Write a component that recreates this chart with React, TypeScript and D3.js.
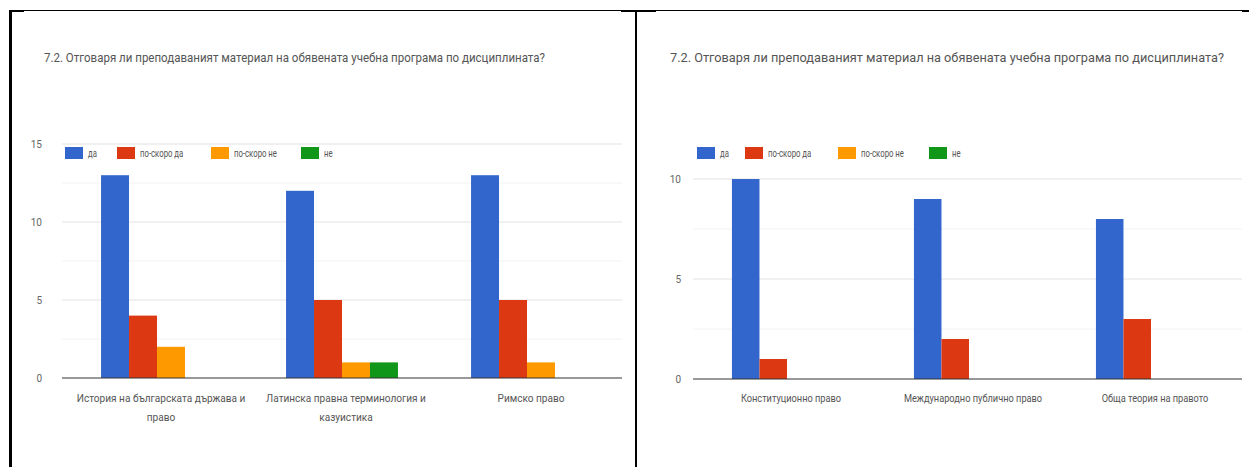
import * as d3 from 'd3';

// question text and legend
const title = "7.2. Отговаря ли преподаваният материал на обявената учебна програма по дисциплината?";
const seriesNames = ["да", "по-скоро да", "по-скоро не", "не"];
const seriesColors = ["#3366cc", "#dc3912", "#ff9900", "#109618"];

// left chart
const leftCategories = [
    ["История на българската държава и", "право"],
    ["Латинска правна терминология и", "казуистика"],
    ["Римско право"],
];
const leftDa = [13, 12, 13];
const leftPoSkoroDa = [4, 5, 5];
const leftPoSkoroNe = [2, 1, 1];
const leftNe = [0, 1, 0];
const leftTicks = [0, 5, 10, 15];

// right chart
const rightCategories = [
    ["Конституционно право"],
    ["Международно публично право"],
    ["Обща теория на правото"],
];
const rightDa = [10, 9, 8];
const rightPoSkoroDa = [1, 2, 3];
const rightPoSkoroNe = [0, 0, 0];
const rightNe = [0, 0, 0];
const rightTicks = [0, 5, 10];

const FONT = "Roboto, 'Noto Sans', sans-serif";

interface PanelProps {
    categories: string[][];
    series: number[][];
    ticks: number[];
    yMax: number;
    titleX: number;
    titleW: number;
    plotLeft: number;
    plotRight: number;
    gridLeft: number;
    gridRight: number;
    yBottom: number;
    yTop: number;
    tickX: number;
    legendX: number[];
    legendY: number;
    labelSx: number;
}

// text squeezed horizontally, like the screenshot
const Squeezed = ({ x, y, sx, anchor, size, children }:
    { x: number; y: number; sx: number; anchor?: string; size: number; children: any }) => (
    <text transform={`translate(${x},${y}) scale(${sx},1)`} textAnchor={anchor ?? "start"}
        fontFamily={FONT} fontSize={size} fill="#555">{children}</text>
);

const Panel = (p: PanelProps) => {
    const x0 = d3.scaleBand<number>()
        .domain(p.categories.map((_, i) => i))
        .range([p.plotLeft, p.plotRight])
        .paddingInner(0.395)
        .paddingOuter(0.1975);
    const x1 = d3.scaleBand<number>()
        .domain(seriesNames.map((_, i) => i))
        .range([0, x0.bandwidth()]);
    const y = d3.scaleLinear().domain([0, p.yMax]).range([p.yBottom, p.yTop]);
    const minor = d3.range(0, p.yMax + 0.01, 2.5).filter(v => !p.ticks.includes(v));

    return (
        <g>
            <text x={p.titleX} y={61.5} fontFamily={FONT} fontSize={13} fill="#555"
                textLength={p.titleW} lengthAdjust="spacingAndGlyphs">{title}</text>

            {minor.map(v => (
                <line key={"m" + v} x1={p.gridLeft} x2={p.gridRight} y1={y(v)} y2={y(v)} stroke="#f2f2f2" />
            ))}
            {p.ticks.filter(v => v > 0).map(v => (
                <line key={"g" + v} x1={p.gridLeft} x2={p.gridRight} y1={y(v)} y2={y(v)} stroke="#e2e2e2" />
            ))}
            {p.ticks.map(v => (
                <text key={"t" + v} x={p.tickX} y={y(v)} dy="0.35em" textAnchor="end"
                    fontFamily={FONT} fontSize={10} fill="#666">{v}</text>
            ))}

            {p.series.map((vals, s) => vals.map((v, i) => v > 0 && (
                <rect key={s + "-" + i}
                    x={(x0(i) ?? 0) + (x1(s) ?? 0)} width={x1.bandwidth()}
                    y={y(v)} height={y(0) - y(v)} fill={seriesColors[s]} />
            )))}

            <line x1={p.gridLeft} x2={p.gridRight} y1={y(0)} y2={y(0)} stroke="#333" strokeWidth={1.2} />

            {p.categories.map((lines, i) => lines.map((l, k) => (
                <Squeezed key={"c" + i + k} x={(x0(i) ?? 0) + x0.bandwidth() / 2 + 4} y={402 + k * 19}
                    sx={p.labelSx} anchor="middle" size={10.5}>{l}</Squeezed>
            )))}

            {seriesNames.map((name, s) => (
                <g key={"l" + s}>
                    <rect x={p.legendX[s]} y={p.legendY - 6} width={18} height={12} fill={seriesColors[s]} />
                    <Squeezed x={p.legendX[s] + 23} y={p.legendY + 3.5} sx={0.74} size={10.5}>{name}</Squeezed>
                </g>
            ))}
        </g>
    );
};

const App = () => {
    return (
        <svg width={1249} height={467} style={{ position: 'absolute', left: 0, top: 0, background: '#fff' }}>
            {/* table borders */}
            <line x1={9} x2={1249} y1={10.5} y2={10.5} stroke="#000" strokeWidth={1} />
            <rect x={9} y={10} width={15} height={2} fill="#000" />
            <rect x={621} y={10} width={35} height={2} fill="#000" />
            <rect x={1242} y={10} width={7} height={2} fill="#000" />
            <rect x={9} y={10} width={3} height={457} fill="#000" />
            <rect x={635} y={10} width={2} height={457} fill="#000" />

            <Panel
                categories={leftCategories}
                series={[leftDa, leftPoSkoroDa, leftPoSkoroNe, leftNe]}
                ticks={leftTicks}
                yMax={15}
                titleX={44}
                titleW={501}
                plotLeft={64.5}
                plotRight={619.5}
                gridLeft={62}
                gridRight={622}
                yBottom={378}
                yTop={144}
                tickX={42}
                legendX={[65, 117, 211, 301]}
                legendY={153}
                labelSx={0.96}
            />
            <Panel
                categories={rightCategories}
                series={[rightDa, rightPoSkoroDa, rightPoSkoroNe, rightNe]}
                ticks={rightTicks}
                yMax={10}
                titleX={670}
                titleW={554}
                plotLeft={696}
                plotRight={1242}
                gridLeft={693}
                gridRight={1242}
                yBottom={379}
                yTop={179}
                tickX={681}
                legendX={[697, 745, 838, 929]}
                legendY={153}
                labelSx={0.88}
            />
        </svg>
    );
};

export default App;
